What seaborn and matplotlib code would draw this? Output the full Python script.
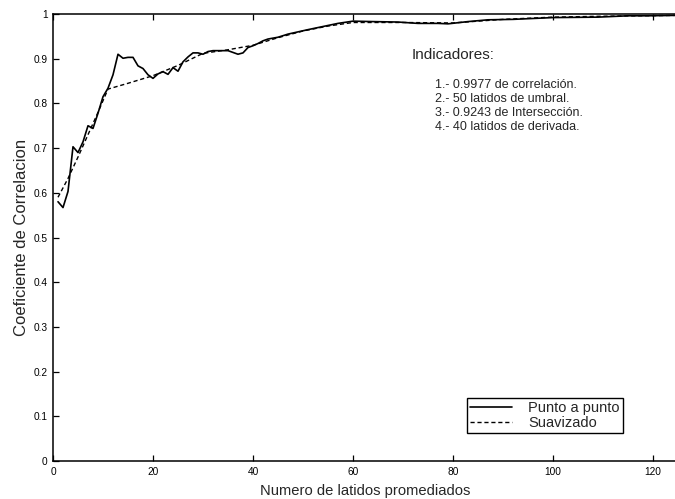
import matplotlib
matplotlib.use("Agg")
import matplotlib.pyplot as plt
import seaborn as sns
import pandas as pd

# Correlation coefficient versus number of averaged beats
x_punto = [1, 2, 3, 4, 5, 6, 7, 8, 9, 10, 11, 12, 13, 14, 15, 16, 17, 18, 19, 20,
           21, 22, 23, 24, 25, 26, 27, 28, 29, 30, 31, 32, 33, 34, 35, 36, 37, 38,
           39, 40, 41, 42, 43, 45, 47, 49, 51, 54, 57, 60, 64, 69, 73, 77, 79, 83,
           87, 92, 100, 109, 115, 119, 125]
y_punto = [0.580, 0.567, 0.603, 0.703, 0.690, 0.714, 0.750, 0.744, 0.778, 0.815,
           0.834, 0.864, 0.910, 0.901, 0.903, 0.903, 0.884, 0.878, 0.864, 0.856,
           0.866, 0.871, 0.865, 0.880, 0.872, 0.893, 0.904, 0.913, 0.913, 0.910,
           0.916, 0.918, 0.918, 0.918, 0.918, 0.914, 0.910, 0.913, 0.925, 0.929,
           0.934, 0.940, 0.944, 0.948, 0.955, 0.960, 0.965, 0.972, 0.979, 0.984,
           0.983, 0.982, 0.979, 0.979, 0.978, 0.983, 0.987, 0.988, 0.992, 0.993,
           0.996, 0.996, 0.997]

x_suave = [1, 3, 5, 7, 9, 11, 15, 20, 25, 30, 35, 40, 45, 50, 55, 60, 70, 80, 90,
           100, 110, 125]
y_suave = [0.590, 0.632, 0.680, 0.730, 0.780, 0.832, 0.845, 0.862, 0.885, 0.912,
           0.920, 0.930, 0.947, 0.962, 0.973, 0.981, 0.981, 0.980, 0.988, 0.993,
           0.995, 0.997]

x_ticks = [0, 20, 40, 60, 80, 100, 120]
y_ticks = [0, 0.1, 0.2, 0.3, 0.4, 0.5, 0.6, 0.7, 0.8, 0.9, 1.0]
y_tick_labels = ["0", "0.1", "0.2", "0.3", "0.4", "0.5", "0.6", "0.7", "0.8", "0.9", "1"]

indicadores = ["1.- 0.9977 de correlación.",
               "2.- 50 latidos de umbral.",
               "3.- 0.9243 de Intersección.",
               "4.- 40 latidos de derivada."]

sns.set_style("ticks")
plt.rcParams["font.family"] = ["Liberation Sans", "DejaVu Sans"]

fig = plt.figure(figsize=(6.75, 4.99), dpi=100)
ax = fig.add_axes([53 / 675, 38 / 499, 625 / 675, 447 / 499])

df_p = pd.DataFrame({"x": x_punto, "y": y_punto})
df_s = pd.DataFrame({"x": x_suave, "y": y_suave})
sns.lineplot(data=df_p, x="x", y="y", ax=ax, color="black", lw=1.2,
             label="Punto a punto")
sns.lineplot(data=df_s, x="x", y="y", ax=ax, color="black", lw=1.0,
             linestyle=(0, (3, 2)), label="Suavizado")

ax.set_xlim(0, 125)
ax.set_ylim(0, 1)
ax.set_xticks(x_ticks)
ax.set_xticklabels([str(t) for t in x_ticks])
ax.set_yticks(y_ticks)
ax.set_yticklabels(y_tick_labels)
ax.tick_params(direction="in", length=4.5, width=0.9, labelsize=7.3, top=True,
               right=False, colors="black", pad=4)
for s in ax.spines.values():
    s.set_linewidth(1.1)
    s.set_color("black")

ax.set_xlabel("Numero de latidos promediados", fontsize=10.6, labelpad=5)
ax.set_ylabel("Coeficiente de Correlacion", fontsize=12, labelpad=3)

fig.text(412 / 675, 1 - 55 / 499, "Indicadores:", fontsize=11, va="center",
         ha="left")
for i, t in enumerate(indicadores):
    fig.text(435 / 675, 1 - (85 + 14 * i) / 499, t, fontsize=9, va="center",
             ha="left")

leg = ax.legend(loc="upper left", bbox_to_anchor=(467 / 675, 1 - 398 / 499),
                bbox_transform=fig.transFigure, borderaxespad=0, fancybox=False,
                edgecolor="black", framealpha=1, fontsize=10.5, handlelength=2.9,
                borderpad=0.2, labelspacing=0.1, handletextpad=1.1)
leg.get_frame().set_linewidth(1.0)

fig.savefig("out.png", dpi=100)
